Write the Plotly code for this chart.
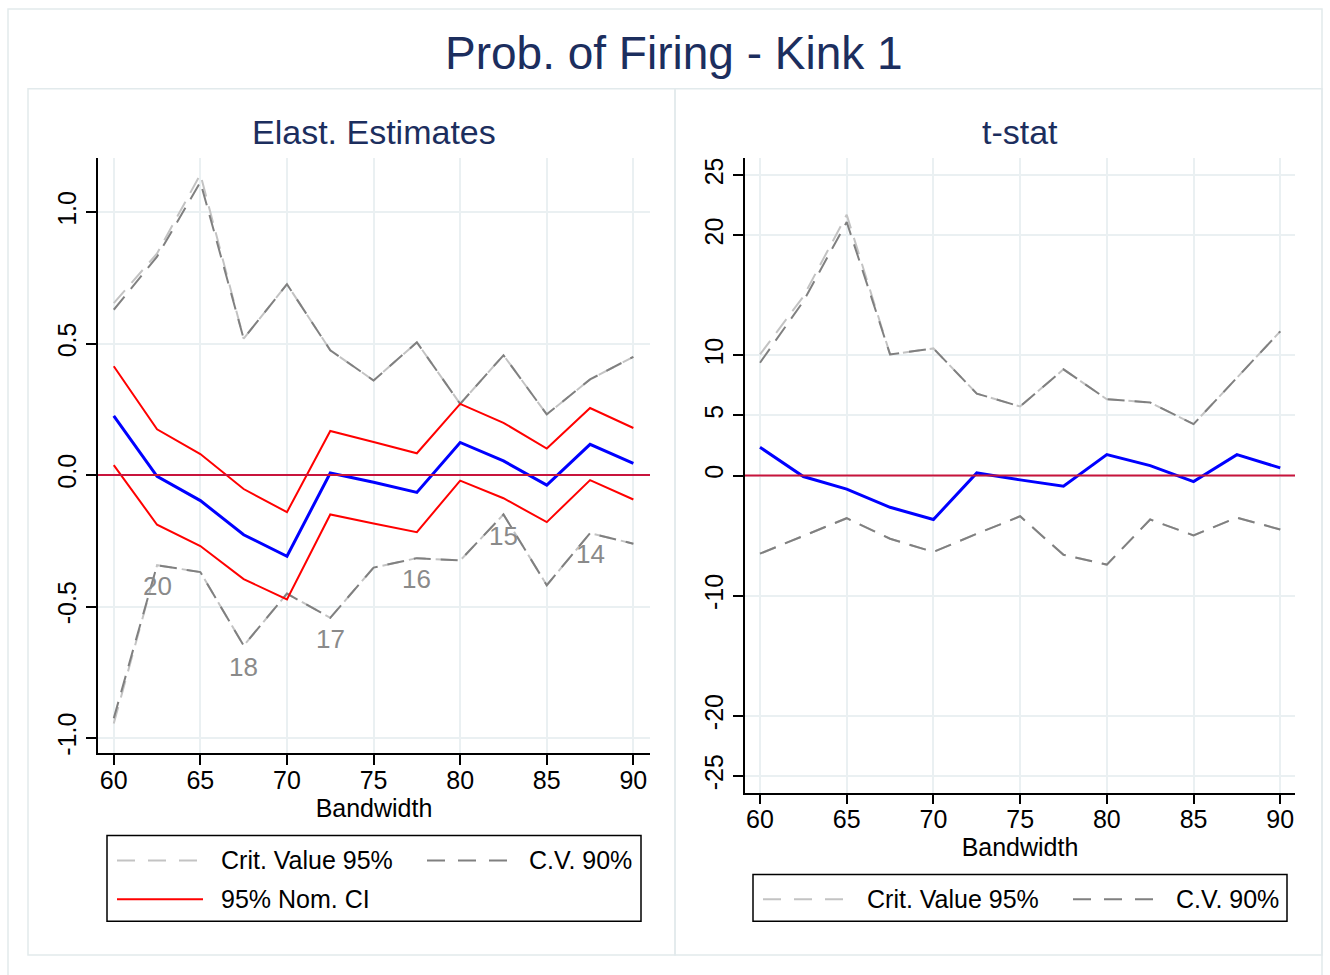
import plotly.graph_objects as go

W, H = 1330, 975
FONT = "Arial, Liberation Sans, sans-serif"

# ---- data -----------------------------------------------------------------
bandwidth = [60, 62.5, 65, 67.5, 70, 72.5, 75, 77.5, 80, 82.5, 85, 87.5, 90]

# elasticity estimates, nominal 95% CI and critical values
elast = [0.225, -0.005, -0.097, -0.227, -0.309, 0.008, -0.027, -0.066, 0.124, 0.054, -0.038, 0.117, 0.045]
ci_hi = [0.414, 0.174, 0.080, -0.053, -0.141, 0.168, 0.126, 0.083, 0.271, 0.199, 0.101, 0.255, 0.179]
ci_lo = [0.038, -0.189, -0.270, -0.396, -0.473, -0.150, -0.184, -0.217, -0.021, -0.088, -0.179, -0.019, -0.093]
cv95_hi = [0.654, 0.843, 1.144, 0.519, 0.726, 0.475, 0.360, 0.505, 0.271, 0.456, 0.231, 0.364, 0.450]
cv90_hi = [0.629, 0.831, 1.115, 0.519, 0.726, 0.475, 0.360, 0.505, 0.271, 0.456, 0.231, 0.364, 0.450]
cv95_lo = [-0.945, -0.343, -0.369, -0.649, -0.451, -0.543, -0.352, -0.316, -0.325, -0.150, -0.419, -0.221, -0.261]
cv90_lo = [-0.925, -0.343, -0.369, -0.649, -0.451, -0.543, -0.352, -0.316, -0.325, -0.150, -0.419, -0.221, -0.261]

# counts printed under the lower critical-value line
count_x = [62.5, 67.5, 72.5, 77.5, 82.5, 87.5]
count_labels = ["20", "18", "17", "16", "15", "14"]

# t-statistics and critical values
tstat = [2.35, -0.08, -1.13, -2.64, -3.66, 0.22, -0.36, -0.88, 1.74, 0.83, -0.50, 1.74, 0.64]
tcv95_hi = [10.08, 14.9, 21.7, 10.08, 10.58, 6.82, 5.75, 8.84, 6.35, 6.08, 4.28, 8.1, 12.0]
tcv90_hi = [9.39, 14.5, 21.1, 10.08, 10.58, 6.82, 5.75, 8.84, 6.35, 6.08, 4.28, 8.1, 12.0]
tcv95_lo = [-6.50, -5.01, -3.55, -5.26, -6.36, -4.85, -3.39, -6.60, -7.41, -3.66, -4.98, -3.50, -4.49]
tcv90_lo = [-6.50, -5.01, -3.55, -5.26, -6.36, -4.85, -3.39, -6.60, -7.41, -3.66, -4.98, -3.50, -4.49]

left_yticks = [-1.0, -0.5, 0.0, 0.5, 1.0]
left_yticktext = ["-1.0", "-0.5", "0.0", "0.5", "1.0"]
right_yticks = [-25, -20, -10, 0, 5, 10, 20, 25]
right_yticktext = ["-25", "-20", "-10", "0", "5", "10", "20", "25"]
x_ticks = [60, 65, 70, 75, 80, 85, 90]

# ---- styles ---------------------------------------------------------------
LIGHT = "#c3c3c3"
DARK = "#808080"
BLUE = "#0000ff"
RED = "#ff0000"
ZERO = "#c8143c"
NAVY = "#1c2e5e"
GRID = "#eaf0f2"
FRAME = "#e2eaec"
DASH = "17px,10px"
KEY_DASH = "18px,13px"


def px(x):
    return x / W


def py(y):
    return 1 - y / H


fig = go.Figure()


def add_line(x, y, color, width, dash, xa, ya):
    fig.add_trace(go.Scatter(
        x=x, y=y, mode="lines", xaxis=xa, yaxis=ya, showlegend=False,
        line=dict(color=color, width=width, dash=dash), hoverinfo="skip"))


# left panel
add_line(bandwidth, cv95_hi, LIGHT, 2, DASH, "x", "y")
add_line(bandwidth, cv90_hi, DARK, 2, DASH, "x", "y")
add_line(bandwidth, cv95_lo, LIGHT, 2, DASH, "x", "y")
add_line(bandwidth, cv90_lo, DARK, 2, DASH, "x", "y")
add_line(bandwidth, ci_hi, RED, 2, "solid", "x", "y")
add_line(bandwidth, ci_lo, RED, 2, "solid", "x", "y")
add_line(bandwidth, elast, BLUE, 3, "solid", "x", "y")

# right panel
add_line(bandwidth, tcv95_hi, LIGHT, 2, DASH, "x2", "y2")
add_line(bandwidth, tcv90_hi, DARK, 2, DASH, "x2", "y2")
add_line(bandwidth, tcv95_lo, LIGHT, 2, DASH, "x2", "y2")
add_line(bandwidth, tcv90_lo, DARK, 2, DASH, "x2", "y2")
add_line(bandwidth, tstat, BLUE, 3, "solid", "x2", "y2")

axis_common = dict(
    showgrid=True, gridcolor=GRID, gridwidth=2, zeroline=False,
    showline=True, linecolor="black", linewidth=1.5,
    ticks="outside", ticklen=10, tickwidth=1.5, tickcolor="black",
    tickfont=dict(family=FONT, size=25, color="black"),
)
xtitle = dict(text="Bandwidth", font=dict(family=FONT, size=25, color="black"), standoff=2)

fig.update_layout(
    width=W, height=H,
    margin=dict(l=0, r=0, t=0, b=0),
    paper_bgcolor="white", plot_bgcolor="white",
    xaxis=dict(domain=[px(98), px(650)], range=[59.09, 90.96], tickvals=x_ticks,
               title=xtitle, ticklabelstandoff=-6, anchor="y", **axis_common),
    yaxis=dict(domain=[py(755), py(158)], range=[-1.057, 1.205], tickvals=left_yticks,
               ticktext=left_yticktext, tickangle=-90, anchor="x", **axis_common),
    xaxis2=dict(domain=[px(745), px(1295)], range=[59.135, 90.85], tickvals=x_ticks,
                title=xtitle, ticklabelstandoff=-6, anchor="y2", **axis_common),
    yaxis2=dict(domain=[py(795), py(158)], range=[-26.4, 26.4], tickvals=right_yticks,
                ticktext=right_yticktext, tickangle=-90, anchor="x2", **axis_common),
)

shapes = []
# frames around the whole graph and each panel
for (x0, y0, x1, y1) in [(8, 8, 1322, 990), (28, 88, 675, 958), (675, 88, 1322, 958)]:
    shapes.append(dict(type="rect", xref="paper", yref="paper", layer="below",
                       x0=px(x0), x1=px(x1), y0=py(y1), y1=py(y0),
                       line=dict(color=FRAME, width=1.5), fillcolor="rgba(0,0,0,0)"))

# reference line at zero in both panels
for xr, yr in [("x domain", "y"), ("x2 domain", "y2")]:
    shapes.append(dict(type="line", xref=xr, yref=yr, x0=0, x1=1, y0=0, y1=0,
                       line=dict(color=ZERO, width=2)))

annotations = [
    dict(text="Prob. of Firing - Kink 1", x=px(674), y=py(52), xref="paper", yref="paper",
         showarrow=False, xanchor="center", yanchor="middle",
         font=dict(family=FONT, size=46, color=NAVY)),
    dict(text="Elast. Estimates", x=px(374), y=py(132), xref="paper", yref="paper",
         showarrow=False, xanchor="center", yanchor="middle",
         font=dict(family=FONT, size=34, color=NAVY)),
    dict(text="t-stat", x=px(1020), y=py(132), xref="paper", yref="paper",
         showarrow=False, xanchor="center", yanchor="middle",
         font=dict(family=FONT, size=34, color=NAVY)),
]

# count labels below the lower critical-value line
for xv, lab in zip(count_x, count_labels):
    yv = cv90_lo[bandwidth.index(xv)]
    annotations.append(dict(text=lab, x=xv, y=yv, xref="x", yref="y", showarrow=False,
                            yshift=-21, xanchor="center", yanchor="middle",
                            font=dict(family=FONT, size=26, color="#8a8a8a")))


def legend_box(x0, y0, x1, y1):
    shapes.append(dict(type="rect", xref="paper", yref="paper",
                       x0=px(x0), x1=px(x1), y0=py(y1), y1=py(y0),
                       line=dict(color="black", width=1.5), fillcolor="white"))


def legend_entry(xs, xe, y, color, dash, label, xt):
    shapes.append(dict(type="line", xref="paper", yref="paper",
                       x0=px(xs), x1=px(xe), y0=py(y), y1=py(y),
                       line=dict(color=color, width=2, dash=dash)))
    annotations.append(dict(text=label, x=px(xt), y=py(y), xref="paper", yref="paper",
                            showarrow=False, xanchor="left", yanchor="middle",
                            font=dict(family=FONT, size=25, color="black")))


# left legend
legend_box(107, 838, 641, 924)
legend_entry(117, 197, 863, LIGHT, KEY_DASH, "Crit. Value 95%", 219)
legend_entry(427, 507, 863, DARK, KEY_DASH, "C.V. 90%", 527)
legend_entry(117, 203, 902, RED, "solid", "95% Nom. CI", 219)

# right legend
legend_box(753, 877, 1287, 924)
legend_entry(763, 843, 902, LIGHT, KEY_DASH, "Crit. Value 95%", 865)
legend_entry(1073, 1153, 902, DARK, KEY_DASH, "C.V. 90%", 1174)

fig.update_layout(shapes=shapes, annotations=annotations)

fig.write_html("out.html")
